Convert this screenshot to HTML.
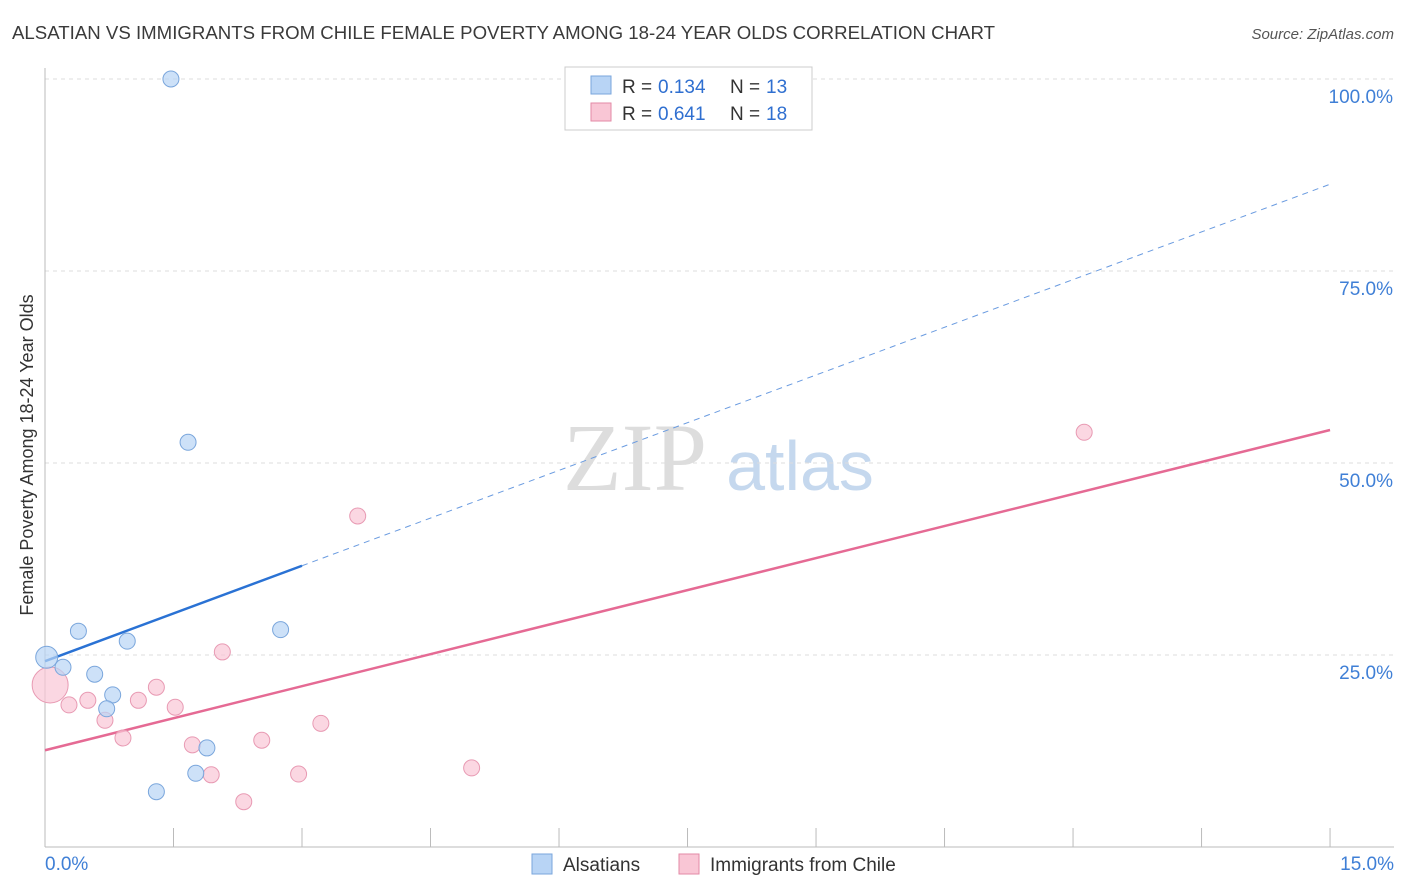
<!DOCTYPE html>
<html><head><meta charset="utf-8"><style>
body{margin:0;background:#fff;font-family:"Liberation Sans",sans-serif}
</style></head><body>
<svg id="chart" width="1406" height="892" xmlns="http://www.w3.org/2000/svg" style="position:absolute;left:0;top:0">
<text x="12" y="39" font-size="18" fill="#3a3a3a" textLength="983" lengthAdjust="spacingAndGlyphs">ALSATIAN VS IMMIGRANTS FROM CHILE FEMALE POVERTY AMONG 18-24 YEAR OLDS CORRELATION CHART</text>
<text x="1394" y="39" font-size="15" fill="#555" font-style="italic" text-anchor="end">Source: ZipAtlas.com</text>
<text x="33" y="455" font-size="18" fill="#333" text-anchor="middle" transform="rotate(-90 33 455)">Female Poverty Among 18-24 Year Olds</text>
<g><text x="635" y="490" font-size="96" fill="#ddd" text-anchor="middle" font-family="Liberation Serif">ZIP</text><text x="800" y="490" font-size="70" fill="#c5d8ee" text-anchor="middle">atlas</text></g>
<g id="grid"></g><g id="axes"></g><g id="lines"></g><g id="pts"></g>
<g>
<rect x="565" y="67" width="247" height="63" fill="#fff" stroke="#ccc"/>
<rect x="591" y="76" width="20" height="18" fill="#b8d4f5" stroke="#7aa6dc"/>
<text x="622" y="93" font-size="19" fill="#333">R =</text><text x="658" y="93" font-size="19" fill="#2f6fd0">0.134</text>
<text x="730" y="93" font-size="19" fill="#333">N =</text><text x="766" y="93" font-size="19" fill="#2f6fd0">13</text>
<rect x="591" y="103" width="20" height="18" fill="#f9c6d5" stroke="#e38aa6"/>
<text x="622" y="120" font-size="19" fill="#333">R =</text><text x="658" y="120" font-size="19" fill="#2f6fd0">0.641</text>
<text x="730" y="120" font-size="19" fill="#333">N =</text><text x="766" y="120" font-size="19" fill="#2f6fd0">18</text>
</g>
<g>
<rect x="532" y="854" width="20" height="20" fill="#b8d4f5" stroke="#7aa6dc"/>
<text x="563" y="871" font-size="19" fill="#333">Alsatians</text>
<rect x="679" y="854" width="20" height="20" fill="#f9c6d5" stroke="#e38aa6"/>
<text x="710" y="871" font-size="19" fill="#333">Immigrants from Chile</text>
</g>
</svg>
<script>
const blueX=[0.02,0.21,0.39,0.58,0.79,0.72,0.96,1.30,1.47,1.67,1.76,1.89,2.75];
const blueY=[24.7,23.4,28.1,22.5,19.8,18.0,26.8,7.2,100,52.7,9.6,12.9,28.3];
const pinkX=[0.06,0.28,0.50,0.70,0.91,1.09,1.30,1.52,1.72,1.94,2.07,2.32,2.53,2.96,3.22,3.65,4.98,12.13];
const pinkY=[21.1,18.5,19.1,16.5,14.2,19.1,20.8,18.2,13.3,9.4,25.4,5.9,13.9,9.5,16.1,43.1,10.3,54.0];
const blueLine=[24.2,86.3];
const pinkLine=[12.6,54.3];
const yTicks=[25,50,75,100];
const yTickLabels=["25.0%","50.0%","75.0%","100.0%"];
const xTicks=[0,1.5,3,4.5,6,7.5,9,10.5,12,13.5,15];
const NS="http://www.w3.org/2000/svg";
const sx=v=>45+v*85.67, sy=v=>847-v*7.68;
function mk(t,a,p){const e=document.createElementNS(NS,t);for(const k in a)e.setAttribute(k,a[k]);document.getElementById(p).appendChild(e);return e;}
yTicks.forEach((t,i)=>{const g=mk('line',{x1:45,x2:1394,y1:sy(t),y2:sy(t),stroke:'#ddd','stroke-dasharray':'4 4'},'grid');


const l=mk('text',{x:1393,y:sy(t)+24,'font-size':19,fill:'#3f7fd6','text-anchor':'end'},'axes');l.textContent=yTickLabels[i];

});
const ax=mk('line',{x1:45,x2:1394,y1:847,y2:847,stroke:'#bbb'},'axes');


const ay=mk('line',{x1:45,x2:45,y1:68,y2:847,stroke:'#bbb'},'axes');


xTicks.forEach(t=>{const e=mk('line',{x1:sx(t),x2:sx(t),y1:828,y2:847,stroke:'#bbb'},'axes');

});
const x0=mk('text',{x:45,y:870,'font-size':19,fill:'#3f7fd6'},'axes');x0.textContent='0.0%';


const x1=mk('text',{x:1394,y:870,'font-size':19,fill:'#3f7fd6','text-anchor':'end'},'axes');x1.textContent='15.0%';


const bAt=x=>blueLine[0]+(blueLine[1]-blueLine[0])*x/15;
let e=mk('line',{x1:sx(0),y1:sy(bAt(0)),x2:sx(3),y2:sy(bAt(3)),stroke:'#2a72d4','stroke-width':2.5},'lines');


e=mk('line',{x1:sx(3),y1:sy(bAt(3)),x2:sx(15),y2:sy(bAt(15)),stroke:'#6a9be0','stroke-width':1,'stroke-dasharray':'6 5'},'lines');


e=mk('line',{x1:sx(0),y1:sy(pinkLine[0]),x2:sx(15),y2:sy(pinkLine[1]),stroke:'#e56a94','stroke-width':2.5},'lines');


pinkX.forEach((x,i)=>{const c=mk('circle',{cx:sx(x),cy:sy(pinkY[i]),r:i==0?18:8,fill:'#f9c6d5','fill-opacity':0.7,stroke:'#e89ab3'},'pts');

});
blueX.forEach((x,i)=>{const c=mk('circle',{cx:sx(x),cy:sy(blueY[i]),r:i==0?11:8,fill:'#b8d4f5','fill-opacity':0.7,stroke:'#7aa6dc'},'pts');

});
</script>
</body></html>
